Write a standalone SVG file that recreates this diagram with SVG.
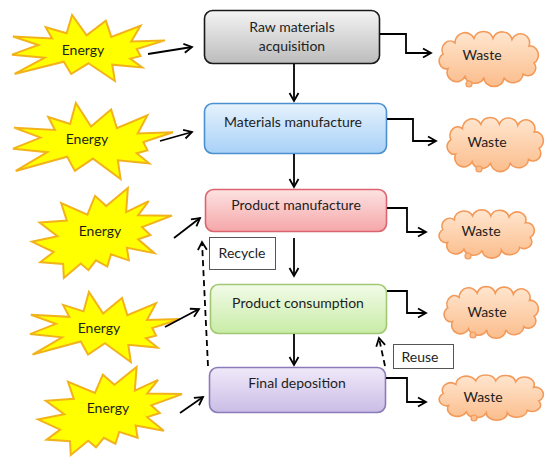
<svg xmlns="http://www.w3.org/2000/svg" xmlns:xlink="http://www.w3.org/1999/xlink" width="550" height="464" viewBox="0 0 550 464">
<defs>
<linearGradient id="gGray" x1="0" y1="0" x2="0" y2="1"><stop offset="0" stop-color="#f4f4f4"/><stop offset="1" stop-color="#bcbcbc"/></linearGradient>
<linearGradient id="gBlue" x1="0" y1="0" x2="0" y2="1"><stop offset="0" stop-color="#e6f2fd"/><stop offset="1" stop-color="#a8d1f7"/></linearGradient>
<linearGradient id="gRed" x1="0" y1="0" x2="0" y2="1"><stop offset="0" stop-color="#fde2e2"/><stop offset="1" stop-color="#f5a7a9"/></linearGradient>
<linearGradient id="gGreen" x1="0" y1="0" x2="0" y2="1"><stop offset="0" stop-color="#f2fbe8"/><stop offset="1" stop-color="#c8eca6"/></linearGradient>
<linearGradient id="gPurple" x1="0" y1="0" x2="0" y2="1"><stop offset="0" stop-color="#f0e9f9"/><stop offset="1" stop-color="#cabde6"/></linearGradient>
<linearGradient id="gCloud" x1="0" y1="0" x2="0" y2="1"><stop offset="0" stop-color="#ffe6cf"/><stop offset="1" stop-color="#fbbd8c"/></linearGradient>
<marker id="arr" markerWidth="12" markerHeight="12" refX="9" refY="5" orient="auto" markerUnits="userSpaceOnUse" viewBox="0 0 12 10">
<path d="M1,0.5 L9,5 L1,9.5" fill="none" stroke="#000" stroke-width="1.8"/>
</marker>
<polygon id="exp1" class="star" points="50,73.15 67.23,100 65.53,75.35 85.09,79.37 77.32,66.13 84,62.33 81.51,51.5 100,38.47 77.95,40.08 84,16.23 64.91,33.07 61.33,8.62 48.76,30.86 39.28,0 35.72,27.65 22.05,18.44 26.24,35.48 0.63,32.47 17.23,45.49 0,60.12 21.42,64.74 1.71,89.37 33.85,70.74 38.67,89.37"/>
<polygon id="exp2" class="star" points="53.06,20.1 68.47,0 67.25,26.75 83.37,14.69 75.83,30.24 100,30.76 78.63,43.53 84.58,52.27 75.83,56.99 87.39,72.37 67.78,66.44 69.18,80.42 56.39,73.77 53.76,87.23 45.7,80.42 40.28,91.26 34.85,83.91 22.76,100 22.25,84.44 5.95,82.52 15.42,71.16 0,59.62 18.22,53.67 5.43,38.29 24.87,36.19 20.84,16.78 39.58,29.55 45.01,8.74"/>
<path id="cloud" class="cloudshape" d="M10,30 A7,7 0 0 1 5,17 A8,8 0 0 1 17,7 A10,9 0 0 1 36,3 A10,9 0 0 1 55,3 A10,9 0 0 1 74,4 A9,8 0 0 1 91,10 A8,8 0 0 1 96,25 A8,7 0 0 1 85,35 A10,8 0 0 1 66,38 A10,8 0 0 1 46,38 A10,8 0 0 1 27,37 A8,7 0 0 1 10,30 Z"/>
</defs>
<style>
text { font-family: Lato, "Liberation Sans", Arial, sans-serif; font-size: 14px; fill: #1e1e1e; text-anchor: middle; }
.star { fill: #ffff00; stroke: #f2b21c; stroke-width: 2; vector-effect: non-scaling-stroke; stroke-linejoin: miter; }
.star2 .star { stroke: #d8cc10; }
.cloudshape { fill: url(#gCloud); stroke: #f39a5a; stroke-width: 1.6; vector-effect: non-scaling-stroke; }
.tail { fill: #fbbd8c; stroke: #f39a5a; stroke-width: 1.2; }
.box rect { stroke-width: 1.6; }
.lbl { fill: #fff; stroke: #555; stroke-width: 1; }
.conn { fill: none; stroke: #000; stroke-width: 1.8; }
.dash { stroke-dasharray: 6 4; }
</style>
<rect width="550" height="464" fill="#fff"/>

<g id="box-raw" class="box">
<rect x="204.5" y="10.5" width="175" height="53" rx="8" fill="url(#gGray)" stroke="#1a1a1a"/>
<text x="292" y="32">Raw materials</text>
<text x="292" y="51">acquisition</text>
</g>
<g id="box-matman" class="box">
<rect x="204.5" y="103.5" width="182" height="50" rx="8" fill="url(#gBlue)" stroke="#4b91cf"/>
<text x="293" y="127">Materials manufacture</text>
</g>
<g id="box-prodman" class="box">
<rect x="205.5" y="189.5" width="181" height="42" rx="8" fill="url(#gRed)" stroke="#dc6470"/>
<text x="296" y="210">Product manufacture</text>
</g>
<g id="box-cons" class="box">
<rect x="210.5" y="284.5" width="176" height="49" rx="8" fill="url(#gGreen)" stroke="#a2c873"/>
<text x="298" y="308">Product consumption</text>
</g>
<g id="box-final" class="box">
<rect x="209.5" y="367.5" width="176" height="45" rx="8" fill="url(#gPurple)" stroke="#8b7bb8"/>
<text x="297" y="388">Final deposition</text>
</g>

<g id="energy1"><use xlink:href="#exp1" transform="translate(12,15) scale(1.53,0.66)"/><text x="83" y="55">Energy</text></g>
<g id="energy2"><use xlink:href="#exp1" transform="translate(13,103) scale(1.6,0.76)"/><text x="87" y="144">Energy</text></g>
<g id="energy3" class="star2"><use xlink:href="#exp2" transform="translate(32,188) scale(1.4,0.9)"/><text x="100" y="236">Energy</text></g>
<g id="energy4" class="star2"><use xlink:href="#exp1" transform="translate(30,292) scale(1.5,0.7)"/><text x="99" y="333">Energy</text></g>
<g id="energy5" class="star2"><use xlink:href="#exp2" transform="translate(38,367) scale(1.44,0.88)"/><text x="108" y="413">Energy</text></g>

<g id="waste1"><use xlink:href="#cloud" transform="translate(438,35) scale(1.0,1.12)"/><circle class="tail" cx="469" cy="84" r="3"/><text x="482" y="60">Waste</text></g>
<g id="waste2"><use xlink:href="#cloud" transform="translate(446,121) scale(0.97,1.1)"/><circle class="tail" cx="479" cy="169" r="3"/><text x="487" y="147">Waste</text></g>
<g id="waste3"><use xlink:href="#cloud" transform="translate(438,213) scale(0.96,0.98)"/><circle class="tail" cx="468" cy="256" r="3"/><text x="481" y="236">Waste</text></g>
<g id="waste4"><use xlink:href="#cloud" transform="translate(443,290) scale(0.95,1.05)"/><circle class="tail" cx="473" cy="335" r="3"/><text x="487" y="317">Waste</text></g>
<g id="waste5"><use xlink:href="#cloud" transform="translate(438,378) scale(1.05,0.92)"/><circle class="tail" cx="474" cy="418" r="3"/><text x="483" y="402">Waste</text></g>

<g id="label-recycle"><rect class="lbl" x="209.5" y="237.5" width="66" height="32"/><text x="242" y="258">Recycle</text></g>
<g id="label-reuse"><rect class="lbl" x="393.5" y="344.5" width="60" height="24"/><text x="420" y="362">Reuse</text></g>

<g id="connectors">
<line class="conn" x1="294" y1="64" x2="294" y2="101" marker-end="url(#arr)"/>
<line class="conn" x1="294" y1="154" x2="294" y2="187" marker-end="url(#arr)"/>
<line class="conn" x1="294" y1="238" x2="294" y2="276" marker-end="url(#arr)"/>
<line class="conn" x1="294" y1="334" x2="294" y2="365" marker-end="url(#arr)"/>
<line class="conn" x1="148" y1="54" x2="192" y2="47" marker-end="url(#arr)"/>
<line class="conn" x1="160" y1="141" x2="192" y2="132" marker-end="url(#arr)"/>
<line class="conn" x1="174" y1="238" x2="200" y2="218" marker-end="url(#arr)"/>
<line class="conn" x1="165" y1="327" x2="199" y2="309" marker-end="url(#arr)"/>
<line class="conn" x1="180" y1="413" x2="203" y2="397" marker-end="url(#arr)"/>
<polyline class="conn" points="380,34 406,34 406,53 431,53" marker-end="url(#arr)"/>
<polyline class="conn" points="387,119 413,119 413,141 436,141" marker-end="url(#arr)"/>
<polyline class="conn" points="387,208 407,208 407,232 426,232" marker-end="url(#arr)"/>
<polyline class="conn" points="387,291 407,291 407,313 426,313" marker-end="url(#arr)"/>
<polyline class="conn" points="386,378 407,378 407,402 426,402" marker-end="url(#arr)"/>
<line class="conn dash" x1="208" y1="366" x2="202" y2="242" marker-end="url(#arr)"/>
<line class="conn dash" x1="385" y1="366" x2="379" y2="338" marker-end="url(#arr)"/>
</g>
</svg>
